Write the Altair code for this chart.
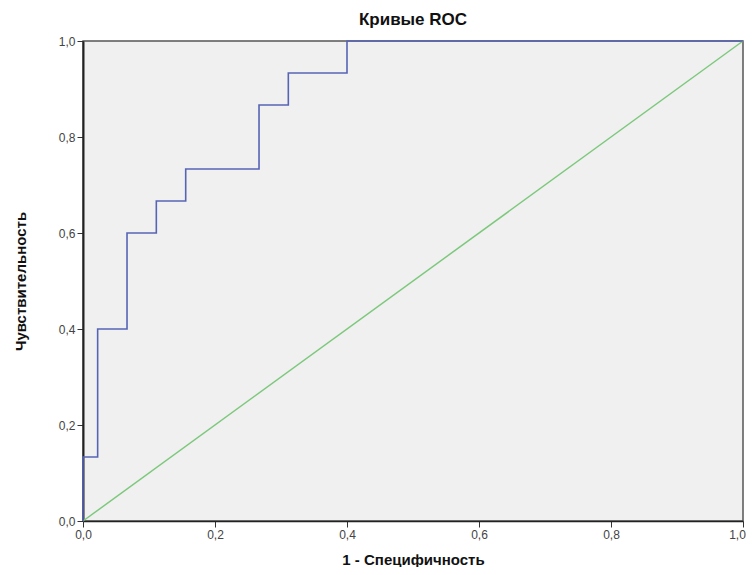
import altair as alt
import pandas as pd

# ROC step curve vertices (1 - specificity, sensitivity)
roc_fpr = [0.0, 0.0, 0.0222, 0.0222, 0.0667, 0.0667, 0.1111, 0.1111, 0.1556, 0.1556,
           0.2667, 0.2667, 0.3111, 0.3111, 0.4, 0.4, 1.0]
roc_tpr = [0.0, 0.1333, 0.1333, 0.4, 0.4, 0.6, 0.6, 0.6667, 0.6667, 0.7333,
           0.7333, 0.8667, 0.8667, 0.9333, 0.9333, 1.0, 1.0]
ref_x = [0.0, 1.0]
ref_y = [0.0, 1.0]
ticks = [0.0, 0.2, 0.4, 0.6, 0.8, 1.0]

roc = pd.DataFrame({"x": roc_fpr, "y": roc_tpr, "o": list(range(len(roc_fpr)))})
ref = pd.DataFrame({"x": ref_x, "y": ref_y, "o": [0, 1]})

font = "Liberation Sans"
lab = "replace(format(datum.value, '.1f'), '.', ',')"

xs = alt.Scale(domain=[0, 1], nice=False, zero=False)
ys = alt.Scale(domain=[0, 1], nice=False, zero=False)

xax = alt.Axis(values=ticks, labelExpr=lab, title="1 - Специфичность", grid=False,
               domainColor="#222222", domainWidth=1.5, tickColor="#333333", tickSize=6,
               labelFont=font, labelFontSize=12, labelColor="#444444", labelFlush=False,
               labelOffset={"condition": {"test": "datum.value == 1", "value": -6}, "value": 0},
               titleFont=font, titleFontSize=15, titleFontWeight="bold",
               titleColor="#111111", titlePadding=12, labelPadding=2)
yax = alt.Axis(values=ticks, labelExpr=lab, title="Чувствительность", grid=False,
               domainColor="#222222", domainWidth=2, tickColor="#333333", tickSize=6,
               labelFont=font, labelFontSize=12, labelColor="#444444", labelFlush=False,
               titleFont=font, titleFontSize=15, titleFontWeight="bold",
               titleColor="#111111", titlePadding=30, labelPadding=2)

ref_line = alt.Chart(ref).mark_line(color="#7dc87d", strokeWidth=1.5).encode(
    x=alt.X("x:Q", scale=xs, axis=xax),
    y=alt.Y("y:Q", scale=ys, axis=yax),
    order="o:Q",
)
roc_line = alt.Chart(roc).mark_line(color="#5564b4", strokeWidth=1.6).encode(
    x=alt.X("x:Q", scale=xs, axis=xax),
    y=alt.Y("y:Q", scale=ys, axis=yax),
    order="o:Q",
)

chart = alt.layer(ref_line, roc_line).properties(
    width=660, height=480,
    title=alt.TitleParams("Кривые ROC", font=font, fontSize=17, fontWeight="bold",
                          color="#111111", offset=6),
    autosize=alt.AutoSizeParams(type="none"),
    padding={"left": 75, "top": 33, "right": 4, "bottom": 46},
).configure_view(fill="#f0f0f0", stroke="#555555", strokeWidth=1.5)

chart.save("out.html", embed_options={"renderer": "svg", "actions": False})
